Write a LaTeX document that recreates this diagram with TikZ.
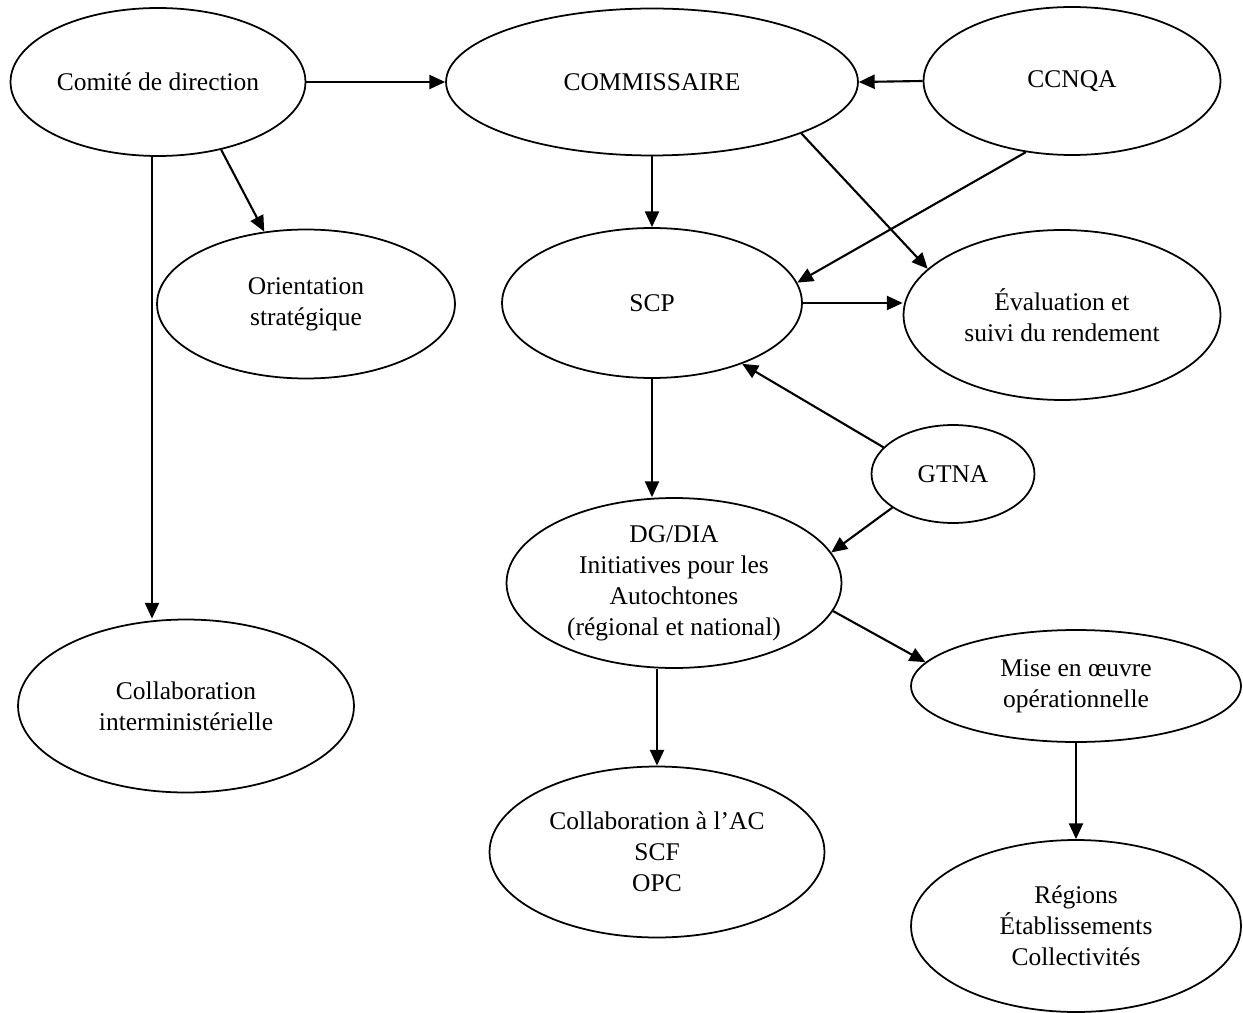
\documentclass[tikz,border=0pt]{standalone}
\usepackage{fontspec}
\setmainfont{Liberation Serif}
\usetikzlibrary{shapes.geometric,arrows.meta}

\begin{document}
\begin{tikzpicture}[x=0.02cm,y=-0.02cm,
	bulle/.style 2 args={ellipse, draw, line width=1pt, inner sep=0pt, align=center, minimum width=#1, minimum height=#2, font=\fontsize{14.5}{17.6}\selectfont},
	fleche/.style={-{Triangle[length=9pt,width=8pt]}, line width=1.2pt}]

	\useasboundingbox (0,0) rectangle (1243,1013);

	\node [bulle={5.9cm}{2.96cm}] (comite) at (158,82) {Comité de direction};
	\node [bulle={8.24cm}{2.94cm}] (commissaire) at (652,82) {COMMISSAIRE};
	\node [bulle={5.94cm}{2.96cm}] (ccnqa) at (1072,81) {CCNQA};
	\node [bulle={5.96cm}{2.98cm}] (orientation) at (306,304) {Orientation\\stratégique};
	\node [bulle={6cm}{3cm}] (scp) at (652,303) {SCP};
	\node [bulle={6.34cm}{3.4cm}] (evaluation) at (1062,315) {Évaluation et\\suivi du rendement};
	\node [bulle={3.26cm}{1.96cm}] (gtna) at (953,474) {GTNA};
	\node [bulle={6.7cm}{3.4cm}] (dgdia) at (674,583) {DG/DIA\\Initiatives pour les\\Autochtones\\(régional et national)};
	\node [bulle={6.72cm}{3.46cm}] (interministere) at (186,706) {Collaboration\\interministérielle};
	\node [bulle={6.6cm}{2.24cm}] (miseoeuvre) at (1076,686) {Mise en œuvre\\opérationnelle};
	\node [bulle={6.7cm}{3.42cm}] (collabac) at (657,852) {Collaboration à l’AC\\SCF\\OPC};
	\node [bulle={6.6cm}{3.44cm}] (regions) at (1076,926) {Régions\\Établissements\\Collectivités};

	\draw [fleche] (comite.east) -- (commissaire.west);
	\draw [fleche] (ccnqa.west) -- (commissaire.east);
	\draw [fleche] (comite.-47) -- (orientation.120);
	\draw [fleche] ([xshift=-0.12cm]comite.south) -- ([xshift=-0.12cm]comite.south |- interministere.north);
	\draw [fleche] (commissaire.south) -- (scp.north);
	\draw [fleche] (commissaire.-19) -- (evaluation.161);
	\draw [fleche] (ccnqa.-123) -- (scp.8);
	\draw [fleche] (scp.east) -- (scp.east -| evaluation.west);
	\draw [fleche] (gtna.159) -- (scp.-34);
	\draw [fleche] (scp.south) -- (scp.south |- dgdia.north);
	\draw [fleche] (gtna.-151) -- (dgdia.11);
	\draw [fleche] (dgdia.-10) -- (miseoeuvre.171);
	\draw [fleche] (collabac.north |- dgdia.south) -- (collabac.north);
	\draw [fleche] (miseoeuvre.south) -- (regions.north);
\end{tikzpicture}
\end{document}
